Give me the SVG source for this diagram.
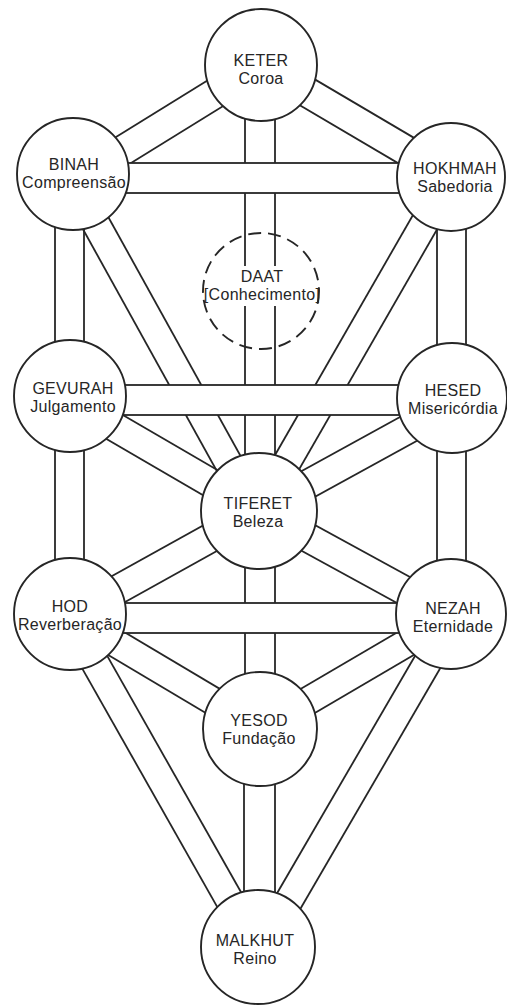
<svg xmlns="http://www.w3.org/2000/svg" width="507" height="1008" viewBox="0 0 507 1008">
<style>
.bg{fill:#ffffff}
.ch line{stroke:#262626;stroke-width:1.8;fill:none}
.band{fill:#ffffff;stroke:#262626;stroke-width:1.8}
.node circle{fill:#ffffff;stroke:#262626;stroke-width:1.9}
.node circle.dash{fill:none;stroke-dasharray:13 7}
.node text{font-family:"Liberation Sans",Arial,sans-serif;font-size:16px;letter-spacing:0.3px;fill:#262626;text-anchor:middle}
</style>
<rect class="bg" x="0" y="0" width="507" height="1008"/>
<g id="connectors" class="ch">
  <line x1="253.1" y1="52.2" x2="67.1" y2="167.2"/>
  <line x1="268.9" y1="77.8" x2="82.9" y2="192.8"/>
  <line x1="253.4" y1="77.9" x2="443.4" y2="189.9"/>
  <line x1="268.6" y1="52.1" x2="458.6" y2="164.1"/>
  <line x1="245" y1="65" x2="245" y2="266"/>
  <line x1="275" y1="65" x2="275" y2="266"/>
  <line x1="245" y1="306" x2="245" y2="511"/>
  <line x1="275" y1="306" x2="275" y2="511"/>
  <line x1="55" y1="174" x2="55" y2="614"/>
  <line x1="84" y1="174" x2="84" y2="614"/>
  <line x1="437" y1="177" x2="437" y2="614"/>
  <line x1="466" y1="177" x2="466" y2="614"/>
  <line x1="56.75" y1="181.8" x2="242.75" y2="517.8"/>
  <line x1="81.25" y1="168.2" x2="267.25" y2="504.2"/>
  <line x1="438.86" y1="170" x2="246.86" y2="504"/>
  <line x1="463.14" y1="184" x2="271.14" y2="518"/>
  <line x1="77.29" y1="388.47" x2="266.29" y2="498.47"/>
  <line x1="62.71" y1="413.53" x2="251.71" y2="523.53"/>
  <line x1="445.02" y1="392.29" x2="252.02" y2="498.29"/>
  <line x1="458.98" y1="417.71" x2="265.98" y2="523.71"/>
  <line x1="77.04" y1="628.68" x2="266.04" y2="523.68"/>
  <line x1="62.96" y1="603.32" x2="251.96" y2="498.32"/>
  <line x1="457.96" y1="603.28" x2="265.96" y2="498.28"/>
  <line x1="444.04" y1="628.72" x2="252.04" y2="523.72"/>
  <line x1="245" y1="511" x2="245" y2="729"/>
  <line x1="275" y1="511" x2="275" y2="729"/>
  <line x1="77.15" y1="603.97" x2="267.15" y2="716.97"/>
  <line x1="62.85" y1="628.03" x2="252.85" y2="741.03"/>
  <line x1="443.92" y1="604.92" x2="252.92" y2="716.92"/>
  <line x1="458.08" y1="629.08" x2="267.08" y2="741.08"/>
  <line x1="55.82" y1="621.9" x2="243.82" y2="953.9"/>
  <line x1="80.18" y1="608.1" x2="268.18" y2="940.1"/>
  <line x1="442.9" y1="607.96" x2="249.9" y2="939.96"/>
  <line x1="467.1" y1="622.04" x2="274.1" y2="954.04"/>
  <line x1="244" y1="729" x2="244" y2="947"/>
  <line x1="275" y1="729" x2="275" y2="947"/>
  <rect class="band" x="73" y="163" width="378" height="30"/>
  <rect class="band" x="70" y="385" width="382" height="30"/>
  <rect class="band" x="70" y="603" width="381" height="30"/>
</g>
<g id="keter" class="node"><circle cx="261" cy="65" r="56"/><text x="261" y="66">KETER</text><text x="261" y="84">Coroa</text></g>
<g id="binah" class="node"><circle cx="73" cy="174" r="56"/><text x="74" y="170">BINAH</text><text x="74" y="188">Compreensão</text></g>
<g id="hokhmah" class="node"><circle cx="451" cy="177" r="54"/><text x="455" y="174">HOKHMAH</text><text x="455" y="192">Sabedoria</text></g>
<g id="daat" class="node"><circle class="dash" cx="261" cy="291" r="58"/><text x="262" y="282">DAAT</text><text x="262" y="300">[Conhecimento]</text></g>
<g id="gevurah" class="node"><circle cx="70" cy="396" r="56"/><text x="73" y="394">GEVURAH</text><text x="73" y="412">Julgamento</text></g>
<g id="hesed" class="node"><circle cx="452" cy="398" r="55"/><text x="453" y="396">HESED</text><text x="453" y="414">Misericórdia</text></g>
<g id="tiferet" class="node"><circle cx="259" cy="511" r="58"/><text x="258" y="509">TIFERET</text><text x="258" y="527">Beleza</text></g>
<g id="hod" class="node"><circle cx="70" cy="614" r="56"/><text x="70" y="612">HOD</text><text x="70" y="630">Reverberação</text></g>
<g id="nezah" class="node"><circle cx="451" cy="614" r="55"/><text x="453" y="614">NEZAH</text><text x="453" y="632">Eternidade</text></g>
<g id="yesod" class="node"><circle cx="260" cy="729" r="57"/><text x="259" y="726">YESOD</text><text x="259" y="744">Fundação</text></g>
<g id="malkhut" class="node"><circle cx="258" cy="947" r="57"/><text x="255" y="946">MALKHUT</text><text x="255" y="964">Reino</text></g>
</svg>
